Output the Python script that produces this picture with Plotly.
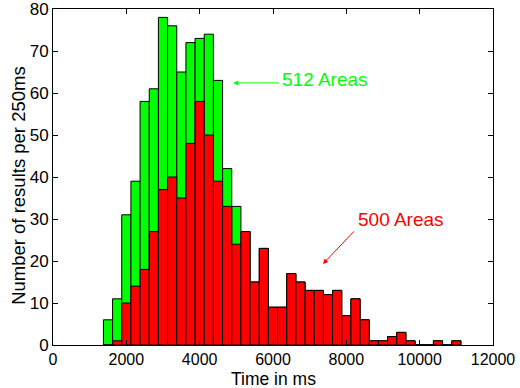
import plotly.graph_objects as go

bin_centers = [1500, 1750, 2000, 2250, 2500, 2750, 3000, 3250, 3500, 3750,
               4000, 4250, 4500, 4750, 5000, 5250, 5500, 5750, 6000, 6250,
               6500, 6750, 7000, 7250, 7500, 7750, 8000, 8250, 8500, 8750,
               9000, 9250, 9500, 9750, 10000, 10250, 10500, 10750, 11000]
counts_512 = [6, 11, 31, 39, 58, 61, 78, 76, 65, 72,
              73, 74, 63, 42, 33, 27, 15, 23, 9, 9,
              17, 15, 13, 13, 12, 13, 7, 11, 6, 1,
              1, 2, 3, 1, 0, 0, 1, 0, 1]
counts_500 = [0, 1, 10, 14, 18, 27, 37, 40, 35, 48,
              58, 50, 39, 33, 24, 27, 15, 23, 9, 9,
              17, 15, 13, 13, 12, 13, 7, 11, 6, 1,
              1, 2, 3, 1, 0, 0, 1, 0, 1]
x_ticks = [0, 2000, 4000, 6000, 8000, 10000, 12000]
y_ticks = [0, 10, 20, 30, 40, 50, 60, 70, 80]

FONT = "Liberation Sans, Arial, Helvetica, sans-serif"

fig = go.Figure()
fig.add_trace(go.Bar(x=bin_centers, y=counts_512, width=250, name="512 Areas",
                     marker=dict(color="#00ff00", line=dict(color="black", width=1))))
fig.add_trace(go.Bar(x=bin_centers, y=counts_500, width=250, name="500 Areas",
                     marker=dict(color="#ff0000", line=dict(color="black", width=1))))

fig.update_layout(
    width=520, height=388,
    margin=dict(l=53, r=27, t=9, b=43, autoexpand=False),
    barmode="overlay",
    showlegend=False,
    plot_bgcolor="white",
    paper_bgcolor="white",
    font=dict(family=FONT, size=17, color="black"),
)
fig.update_xaxes(range=[0, 12000], tickvals=x_ticks, ticktext=[str(v) for v in x_ticks],
                 ticks="inside", ticklen=5, tickcolor="black", mirror="ticks", automargin=False,
                 ticklabeloverflow="allow", tickfont=dict(size=16),
                 showline=True, linecolor="black", linewidth=1, showgrid=False, zeroline=False)
fig.update_yaxes(range=[0, 80], tickvals=y_ticks, ticktext=[str(v) for v in y_ticks],
                 ticks="inside", ticklen=5, tickcolor="black", mirror="ticks", automargin=False,
                 ticklabeloverflow="allow",
                 showline=True, linecolor="black", linewidth=1, showgrid=False, zeroline=False)

# axis titles
fig.add_annotation(x=0.5, y=-0.102, xref="paper", yref="paper", text="Time in ms",
                   showarrow=False, xanchor="center", yanchor="middle", borderpad=0,
                   font=dict(size=17.5))
fig.add_annotation(x=-0.08, y=0.476, xref="paper", yref="paper", text="Number of results per 250ms",
                   showarrow=False, xanchor="center", yanchor="middle", textangle=-90,
                   font=dict(size=18.5))

fig.add_annotation(x=4917, y=62.4, ax=6200, ay=62.4, xref="x", yref="y", axref="x", ayref="y",
                   text="", showarrow=True, arrowhead=2, arrowsize=1, arrowwidth=1,
                   arrowcolor="#00ff00")
fig.add_annotation(x=6200, y=63.2, xref="x", yref="y", text="512 Areas", showarrow=False,
                   xanchor="left", font=dict(color="#00ff00", size=19))
fig.add_annotation(x=7363, y=19.3, ax=8244, ay=27.4, xref="x", yref="y", axref="x", ayref="y",
                   text="", showarrow=True, arrowhead=2, arrowsize=1, arrowwidth=1,
                   arrowcolor="#ff0000")
fig.add_annotation(x=8250, y=29.8, xref="x", yref="y", text="500 Areas", showarrow=False,
                   xanchor="left", font=dict(color="#ff0000", size=19))

fig.write_html("out.html")
